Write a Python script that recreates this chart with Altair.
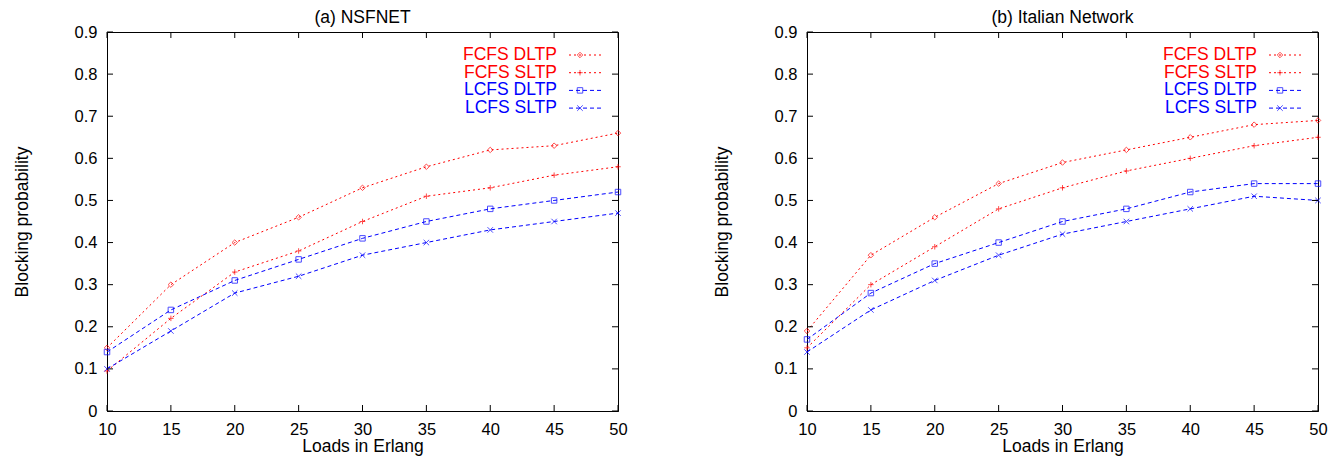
import altair as alt
import pandas as pd

loads = [10, 15, 20, 25, 30, 35, 40, 45, 50]
series_names = ["FCFS DLTP", "FCFS SLTP", "LCFS DLTP", "LCFS SLTP"]

nsf_fcfs_dltp = [0.15, 0.30, 0.40, 0.46, 0.53, 0.58, 0.62, 0.63, 0.66]
nsf_fcfs_sltp = [0.095, 0.22, 0.33, 0.38, 0.45, 0.51, 0.53, 0.56, 0.58]
nsf_lcfs_dltp = [0.14, 0.24, 0.31, 0.36, 0.41, 0.45, 0.48, 0.50, 0.52]
nsf_lcfs_sltp = [0.10, 0.19, 0.28, 0.32, 0.37, 0.40, 0.43, 0.45, 0.47]

ita_fcfs_dltp = [0.19, 0.37, 0.46, 0.54, 0.59, 0.62, 0.65, 0.68, 0.69]
ita_fcfs_sltp = [0.15, 0.30, 0.39, 0.48, 0.53, 0.57, 0.60, 0.63, 0.65]
ita_lcfs_dltp = [0.17, 0.28, 0.35, 0.40, 0.45, 0.48, 0.52, 0.54, 0.54]
ita_lcfs_sltp = [0.14, 0.24, 0.31, 0.37, 0.42, 0.45, 0.48, 0.51, 0.50]

x_ticks = [10, 15, 20, 25, 30, 35, 40, 45, 50]
y_ticks = [0, 0.1, 0.2, 0.3, 0.4, 0.5, 0.6, 0.7, 0.8, 0.9]

colors = ["#ff0000", "#ff0000", "#0000ff", "#0000ff"]
dashes = [[2, 3], [2, 3], [4, 3], [4, 3]]
shapes = ["diamond", "M-1,0L1,0M0,-1L0,1", "square", "M-1,-1L1,1M-1,1L1,-1"]

FONT = "Liberation Sans"
W, H = 511, 379


def long_df(vals):
    rows = []
    for name, v in zip(series_names, vals):
        for x, y in zip(loads, v):
            rows.append({"load": x, "bp": y, "series": name})
    return pd.DataFrame(rows)


color_enc = alt.Color("series:N", scale=alt.Scale(domain=series_names, range=colors), legend=None)
dash_enc = alt.StrokeDash("series:N", scale=alt.Scale(domain=series_names, range=dashes), legend=None)
shape_enc = alt.Shape("series:N", scale=alt.Scale(domain=series_names, range=shapes), legend=None)

xscale = alt.Scale(domain=[10, 50], nice=False)
yscale = alt.Scale(domain=[0, 0.9], nice=False)


def panel(title, vals):
    df = long_df(vals)
    base = alt.Chart(df)
    x = alt.X("load:Q", scale=xscale,
              axis=alt.Axis(values=x_ticks, title="Loads in Erlang", ticks=False, grid=False,
                            labelFlush=False, labelPadding=10, titlePadding=0, format="d"))
    y = alt.Y("bp:Q", scale=yscale,
              axis=alt.Axis(values=y_ticks, title="Blocking probability", ticks=False, grid=False,
                            labelPadding=10, titlePadding=43, labelExpr="datum.value == 0 ? '0' : format(datum.value, '.1f')"))
    lines = base.mark_line(strokeWidth=1).encode(x=x, y=y, color=color_enc, strokeDash=dash_enc, detail="series:N")
    pts = base.mark_point(filled=False, size=30, strokeWidth=1).encode(
        x="load:Q", y="bp:Q", color=color_enc, shape=shape_enc)

    xt = pd.DataFrame({"t": x_ticks})
    yt = pd.DataFrame({"t": y_ticks})
    tb = alt.Chart(xt).mark_rule(color="black", y2Offset=-6).encode(
        x=alt.X("t:Q", scale=xscale), y=alt.datum(0), y2=alt.datum(0))
    tt = alt.Chart(xt).mark_rule(color="black", y2Offset=6).encode(
        x=alt.X("t:Q", scale=xscale), y=alt.datum(0.9), y2=alt.datum(0.9))
    tl = alt.Chart(yt).mark_rule(color="black", x2Offset=6).encode(
        y=alt.Y("t:Q", scale=yscale), x=alt.datum(10), x2=alt.datum(10))
    tr = alt.Chart(yt).mark_rule(color="black", x2Offset=-6).encode(
        y=alt.Y("t:Q", scale=yscale), x=alt.datum(50), x2=alt.datum(50))

    leg = pd.DataFrame({"series": series_names, "ly": [23 + 17.7 * i for i in range(4)]})
    lb = alt.Chart(leg)
    ltext = lb.mark_text(align="right", baseline="middle", fontSize=17.5, font=FONT).encode(
        x=alt.value(450), y=alt.Y("ly:Q", scale=None), text="series:N", color=color_enc)
    lline = lb.mark_rule(strokeWidth=1).encode(
        x=alt.value(462), x2=alt.value(495), y=alt.Y("ly:Q", scale=None), color=color_enc, strokeDash=dash_enc)
    lpt = lb.mark_point(filled=False, size=30, strokeWidth=1).encode(
        x=alt.value(473), y=alt.Y("ly:Q", scale=None), color=color_enc, shape=shape_enc)

    return alt.layer(lines, pts, tb, tt, tl, tr, lline, lpt, ltext).properties(
        width=W, height=H,
        title=alt.TitleParams(title, fontSize=17.5, font=FONT, fontWeight="normal", offset=-2, color="black"),
    )


left = panel("(a) NSFNET", [nsf_fcfs_dltp, nsf_fcfs_sltp, nsf_lcfs_dltp, nsf_lcfs_sltp])
right = panel("(b) Italian Network", [ita_fcfs_dltp, ita_fcfs_sltp, ita_lcfs_dltp, ita_lcfs_sltp])

chart = alt.hconcat(
    left, right, spacing=84, background="white",
    padding={"left": 4, "top": 0, "right": 0, "bottom": 0},
).configure_view(
    stroke="black", strokeWidth=1
).configure_axis(
    labelFont=FONT, titleFont=FONT, labelFontSize=16.5, titleFontSize=17.5, titleFontWeight="normal",
    labelColor="black", titleColor="black", domainColor="black",
)

chart.save("out.html", embed_options={"renderer": "svg", "actions": False})
